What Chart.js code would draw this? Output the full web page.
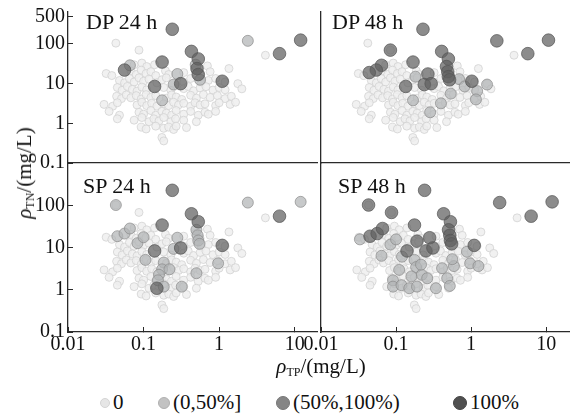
<!DOCTYPE html>
<html>
<head>
<meta charset="utf-8">
<script src="https://cdn.jsdelivr.net/npm/chart.js@4.4.0/dist/chart.umd.min.js"></script>
<style>
  body { margin: 0; background: #fff; width: 577px; height: 414px; position: relative; overflow: hidden;
         font-family: "Liberation Serif", "Times New Roman", serif; color: #111; }
  .panel { position: absolute; }
  .txt { position: absolute; font-size: 20px; line-height: 1; white-space: nowrap; }
  .name { font-size: 22px; }
  .sub { font-size: 12px; font-style: normal; vertical-align: -3px; }
  .rho { font-style: italic; }
  .dot { display: inline-block; border-radius: 50%; vertical-align: middle; margin-right: 3px; position: relative; top: -1px; }
</style>
</head>
<body>
<div class="panel" style="left:0;top:0"><canvas id="dp24" width="325" height="175"></canvas></div>
<div class="panel" style="left:300px;top:0"><canvas id="dp48" width="277" height="175"></canvas></div>
<div class="panel" style="left:0;top:155px"><canvas id="sp24" width="325" height="205"></canvas></div>
<div class="panel" style="left:300px;top:155px"><canvas id="sp48" width="277" height="205"></canvas></div>

<div class="txt name" style="left:86px;top:11px">DP 24 h</div>
<div class="txt name" style="left:332px;top:11px">DP 48 h</div>
<div class="txt name" style="left:83px;top:175px">SP 24 h</div>
<div class="txt name" style="left:338px;top:175px">SP 48 h</div>

<div class="txt" style="left:25px;top:173px;font-size:21px;transform:translate(-50%,-50%) rotate(-90deg)">
  <span class="rho">ρ</span><span class="sub">TN</span>/(mg/L)</div>
<div class="txt" style="left:321px;top:367px;font-size:21px;transform:translate(-50%,-50%)">
  <span class="rho">ρ</span><span class="sub">TP</span>/(mg/L)</div>

<div id="legend"></div>

<script>
// tick values
const xTicks = [0.01, 0.1, 1, 10];
const yTicksTop = [0.1, 1, 10, 100, 500];
const yTicksBottom = [0.1, 1, 10, 100];

// legend
const legendLabels = ['0', '(0,50%]', '(50%,100%)', '100%'];

// all samples, [TP, TN] in mg/L
const cloud = [
  [0.043,105],[0.087,70],[4.1,52],
  [0.075,30],[0.095,33],[0.11,27],[0.14,30],[0.70,28],[1.35,24],
  [0.032,18],[0.038,16],[0.068,21],[0.08,17],[0.093,22],[0.108,18],[0.125,20],[0.145,16],[0.195,21],[0.215,17],[0.34,19],[0.48,22],[0.56,17],[0.76,20],
  [0.048,12],[0.056,10.5],[0.065,13.5],[0.075,11],[0.087,14],[0.10,11.5],[0.118,13],[0.15,10.5],[0.175,12.5],[0.2,14],[0.34,11],[0.42,13.5],[0.58,10.5],[0.72,12],[0.9,13.5],[1.2,11],[1.77,10],
  [0.045,8],[0.052,6.8],[0.061,8.5],[0.071,7.2],[0.082,6.5],[0.095,8.2],[0.11,7],[0.185,8],[0.23,6.8],[0.34,7.5],[0.39,8.5],[0.46,6.6],[0.56,7.8],[0.67,8.4],[0.83,6.9],[1.0,8],[1.2,7],[2.0,7.4],
  [0.044,4.8],[0.051,4.2],[0.059,5.2],[0.068,4.4],[0.08,5],[0.093,4.1],[0.108,5.3],[0.125,4.5],[0.145,5],[0.2,4.3],[0.235,5.2],[0.27,4.6],[0.32,4],[0.42,5.1],[0.5,4.3],[0.62,5.3],[0.76,4.5],[0.95,5],[1.2,4.2],[1.45,4.8],
  [0.030,3.0],[0.039,2.7],[0.045,3.3],[0.082,2.9],[0.095,3.4],[0.11,2.8],[0.128,3.2],[0.15,2.7],[0.185,3.1],[0.215,2.8],[0.25,3.4],[0.29,2.9],[0.34,3.2],[0.42,2.7],[0.48,3.3],[0.56,2.9],[0.65,3.1],[0.9,2.8],[1.0,3.3],[1.4,3.0],[1.65,3.4],
  [0.035,2.0],[0.048,1.6],[0.087,1.9],[0.10,1.7],[0.125,2.1],[0.145,1.6],[0.175,2.0],[0.2,1.8],[0.235,1.6],[0.27,2.1],[0.34,1.7],[0.42,2.0],[0.53,1.6],[0.65,1.9],[0.72,1.7],[0.9,2.0],
  [0.045,1.3],[0.075,1.2],[0.095,1.4],[0.118,1.1],[0.137,1.3],[0.16,1.15],[0.185,1.4],[0.23,1.1],[0.265,1.3],[0.34,1.2],[0.5,1.1],
  [0.093,0.8],[0.108,0.72],[0.145,0.85],[0.185,0.75],[0.215,0.8],[0.25,0.7],[0.27,0.85],[0.37,0.78],
  [0.175,0.44],[0.185,0.36]
];

// DP 24 h
const dp24Mid = [[2.4,120],[0.066,29],[0.28,17.5],[0.25,9.5],[0.176,3.8],[0.56,12.5],[0.49,30]];
const dp24High = [[0.24,235],[0.43,65],[0.53,42],[0.176,35],[0.51,24],[0.53,17],[0.14,8.5],[0.31,10],[1.1,11.5],[6.3,57],[12,125],[0.056,22]];

// DP 48 h
const dp48Mid = [[0.19,15],[0.74,13],[0.88,8.5],[1.3,6.5],[1.77,9.5],[1.25,4],[0.42,3.2],[0.57,5.6],[0.30,1.9],[0.176,3.8]];
const dp48High = [[0.24,235],[2.4,120],[0.087,70],[0.43,65],[0.53,42],[0.176,35],[0.066,29],[0.056,22],[0.045,19],[0.5,27],[0.52,20],[0.53,15],[0.55,12.5],[0.28,17.5],[0.14,8.5],[0.25,9.5],[0.31,10],[1.1,11.5],[6.3,57],[12,125]];

// SP 24 h
const sp24Mid = [[0.043,105],[2.4,120],[12,125],[0.5,27],[0.52,20],[0.53,15],[0.55,12.5],[0.045,19],[0.056,22],[0.066,29],[0.083,13],[0.10,18],[0.106,5.2],[0.185,4.5],[0.176,3.1],[0.22,3.1],[0.16,2.3],[0.155,1.7],[0.185,1.2],[0.32,1.2],[0.28,17.5],[0.25,9.5],[0.5,2.5],[0.97,4.3]];
const sp24High = [[0.24,235],[0.43,65],[0.53,42],[0.176,35],[0.31,10],[0.14,8.5],[1.1,11.5],[6.3,57],[0.15,1.1]];

// SP 48 h
const sp48Mid = [[0.033,16],[0.064,6.5],[0.084,12],[0.10,16],[0.12,6.2],[0.176,5.2],[0.185,3.5],[0.11,3.0],[0.22,2.3],[0.16,2.1],[0.091,1.7],[0.091,1.2],[0.118,1.3],[0.15,1.1],[0.19,1.2],[0.26,1.9],[0.34,1.1],[0.41,3.3],[0.48,1.9],[0.52,1.25],[0.59,3.7],[0.56,5.4],[0.97,4.3],[1.25,3.7],[0.88,8.1],[0.215,4]];
const sp48High = [[0.24,235],[0.043,105],[0.087,70],[2.4,120],[0.43,65],[0.53,42],[0.176,35],[0.5,27],[0.52,20],[0.53,15],[0.55,12.5],[0.28,17.5],[0.19,14.5],[0.25,8.5],[0.31,10],[0.14,8.5],[1.1,11.5],[0.045,19],[0.056,22],[0.066,29],[6.3,57],[12,125]];

const colors = {
  zero: ['rgba(238,238,238,0.85)', 'rgba(208,208,208,0.95)'],
  mid: ['rgba(178,180,182,0.72)', 'rgba(135,135,135,0.85)'],
  high: ['rgba(95,95,95,0.72)', 'rgba(85,85,85,0.9)'],
  full: ['#505050', '#444']
};
const lineColor = '#2a2a2a';
const tickFont = { family: '"Liberation Serif", "Times New Roman", serif', size: 20 };

function toPts(arr) {
  return arr.map(p => ({ x: p[0], y: p[1] }));
}

function makePanel(id, cfg) {
  const fixTicks = vals => s => { s.ticks = vals.map(v => ({ value: v })); };
  new Chart(document.getElementById(id), {
    type: 'scatter',
    data: {
      datasets: [
        // higher order is drawn first (underneath)
        { order: 3, data: toPts(cloud), pointRadius: 4, backgroundColor: colors.zero[0], borderColor: colors.zero[1], borderWidth: 0.8 },
        { order: 2, data: toPts(cfg.mid), pointRadius: 5.5, backgroundColor: colors.mid[0], borderColor: colors.mid[1], borderWidth: 0.8 },
        { order: 1, data: toPts(cfg.high), pointRadius: 6.3, backgroundColor: colors.high[0], borderColor: colors.high[1], borderWidth: 0.8 }
      ]
    },
    options: {
      responsive: false,
      animation: false,
      events: [],
      layout: { padding: cfg.padding },
      plugins: { legend: { display: false }, tooltip: { enabled: false } },
      scales: {
        x: {
          type: 'logarithmic',
          min: 0.01, max: cfg.xMax,
          afterBuildTicks: fixTicks(xTicks),
          afterFit: s => { s.height = cfg.xHeight; s.paddingLeft = 0; s.paddingRight = 0; },
          border: { display: true, color: lineColor, width: 1.3 },
          grid: { display: cfg.xLabels, drawOnChartArea: false, drawTicks: true, tickLength: -5, color: lineColor },
          ticks: { display: cfg.xLabels, autoSkip: false, maxRotation: 0, padding: 6, color: '#111', font: tickFont,
                   callback: v => String(v) }
        },
        y: {
          type: 'logarithmic',
          min: 0.1, max: cfg.yMax,
          afterBuildTicks: fixTicks(cfg.yTicks),
          afterFit: s => { s.width = cfg.yWidth; s.paddingTop = 0; s.paddingBottom = 0; },
          border: { display: true, color: lineColor, width: 1.3 },
          grid: { display: cfg.yLabels, drawOnChartArea: false, drawTicks: true, tickLength: -5, color: lineColor },
          ticks: { display: cfg.yLabels, autoSkip: false, padding: 8, color: '#111', font: tickFont,
                   callback: v => String(v) }
        }
      }
    }
  });
}

makePanel('dp24', { mid: dp24Mid, high: dp24High, padding: { top: 12, right: 4, left: 0, bottom: 0 },
  xHeight: 12, yWidth: 68, xMax: 20.3, yMax: 640, yTicks: yTicksTop, xLabels: false, yLabels: true });
makePanel('dp48', { mid: dp48Mid, high: dp48High, padding: { top: 12, right: 0, left: 0, bottom: 0 },
  xHeight: 12, yWidth: 21, xMax: 23.4, yMax: 640, yTicks: yTicksTop, xLabels: false, yLabels: false });
makePanel('sp24', { mid: sp24Mid, high: sp24High, padding: { top: 8, right: 4, left: 0, bottom: 0 },
  xHeight: 28, yWidth: 68, xMax: 20.3, yMax: 1050, yTicks: yTicksBottom, xLabels: true, yLabels: true });
makePanel('sp48', { mid: sp48Mid, high: sp48High, padding: { top: 8, right: 4, left: 0, bottom: 0 },
  xHeight: 28, yWidth: 21, xMax: 20.7, yMax: 1050, yTicks: yTicksBottom, xLabels: true, yLabels: false });

// legend
const legendPos = [100, 158, 276, 453];
const legendDots = [[8, '#e6e6e6', '#d4d4d4'], [10, '#c2c2c2', '#b0b0b0'], [12, '#858585', '#777'], [12, colors.full[0], colors.full[1]]];
const legend = document.getElementById('legend');
legendLabels.forEach((t, i) => {
  const d = legendDots[i];
  const el = document.createElement('div');
  el.className = 'txt';
  el.style.left = legendPos[i] + 'px';
  el.style.top = '392px';
  el.style.fontSize = '21px';
  el.innerHTML = '<span class="dot" style="width:' + d[0] + 'px;height:' + d[0] + 'px;background:' + d[1] +
    ';border:0.5px solid ' + d[2] + '"></span>' + t;
  legend.appendChild(el);
});
</script>
</body>
</html>
